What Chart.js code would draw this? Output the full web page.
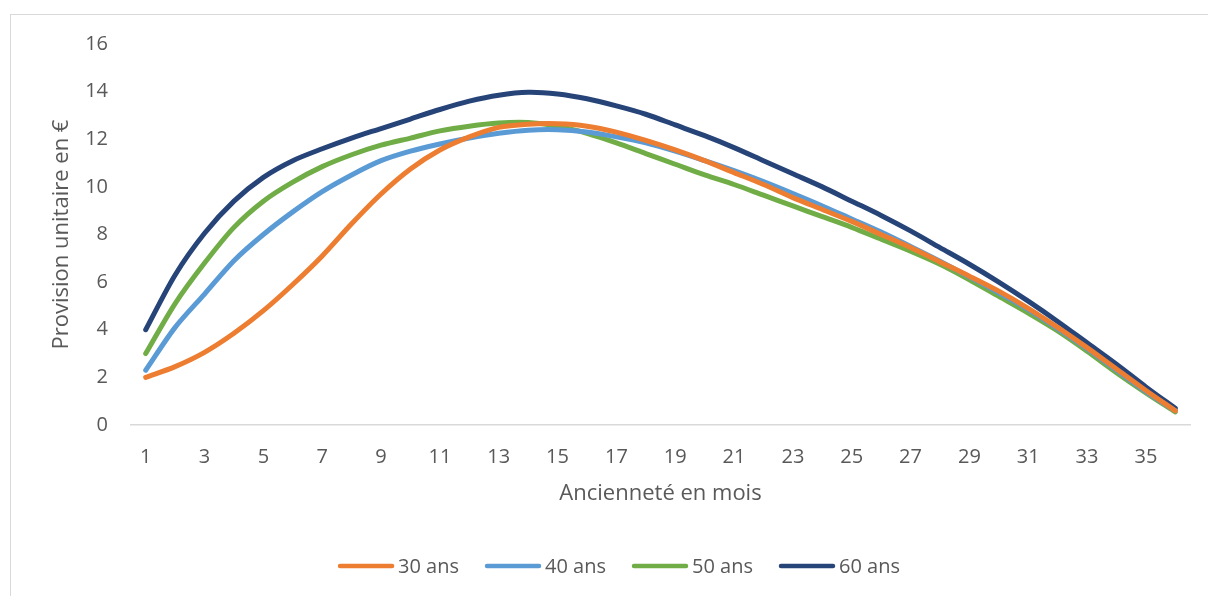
<!DOCTYPE html>
<html>
<head>
<meta charset="utf-8">
<script src="https://cdn.jsdelivr.net/npm/chart.js@4.4.0/dist/chart.umd.min.js"></script>
<style>
  html, body { margin: 0; padding: 0; background: #ffffff; overflow: hidden; }
  #frame { position: absolute; left: 10px; top: 14px; width: 1400px; height: 800px;
           border-left: 1.5px solid #d9d9d9; border-top: 1.5px solid #d9d9d9; }
  #wrap { position: absolute; left: 0; top: 0; width: 1208px; height: 596px; }
</style>
</head>
<body>
<div id="frame"></div>
<div id="wrap"><canvas id="c" width="1208" height="596"></canvas></div>
<script>
// ---- data ----
const categories = Array.from({length: 36}, (_, i) => String(i + 1));
const seriesNames = ["30 ans", "40 ans", "50 ans", "60 ans"];
const ans30 = [2.0, 2.45, 3.05, 3.85, 4.8, 5.9, 7.1, 8.45, 9.7, 10.75, 11.55, 12.1, 12.5, 12.63, 12.65, 12.55,
               12.3, 11.95, 11.55, 11.1, 10.6, 10.1, 9.55, 9.05, 8.55, 8.0, 7.45, 6.85, 6.25, 5.62, 4.9, 4.1, 3.25, 2.35, 1.45, 0.6];
const ans40 = [2.3, 4.1, 5.5, 6.9, 8.0, 8.95, 9.8, 10.5, 11.1, 11.5, 11.8, 12.05, 12.25, 12.38, 12.4, 12.3,
               12.1, 11.85, 11.5, 11.1, 10.68, 10.22, 9.72, 9.2, 8.65, 8.1, 7.5, 6.88, 6.22, 5.55, 4.85, 4.05, 3.2, 2.3, 1.4, 0.6];
const ans50 = [3.0, 5.1, 6.8, 8.3, 9.4, 10.2, 10.85, 11.35, 11.75, 12.05, 12.35, 12.55, 12.68, 12.7, 12.55, 12.25,
               11.85, 11.4, 10.95, 10.5, 10.1, 9.65, 9.2, 8.75, 8.3, 7.8, 7.3, 6.75, 6.1, 5.4, 4.7, 3.95, 3.1, 2.2, 1.35, 0.55];
const ans60 = [4.0, 6.3, 8.05, 9.4, 10.4, 11.1, 11.6, 12.05, 12.45, 12.85, 13.25, 13.6, 13.85, 13.97, 13.9, 13.7,
               13.4, 13.05, 12.6, 12.15, 11.65, 11.1, 10.55, 10.0, 9.4, 8.8, 8.15, 7.45, 6.75, 6.0, 5.2, 4.35, 3.45, 2.55, 1.6, 0.7];
const yTicks = [0, 2, 4, 6, 8, 10, 12, 14, 16];
const yTitle = "Provision unitaire en €";
const xTitle = "Ancienneté en mois";

const colors = ["#ED7D31", "#5B9BD5", "#70AD47", "#264478"];
const textColor = "#595959";
const FONT = "'Open Sans', 'Noto Sans', sans-serif";

const seriesValues = [ans30, ans40, ans50, ans60];
const datasets = seriesNames.map((name, i) => ({
  label: name,
  data: seriesValues[i],
  borderColor: colors[i],
  backgroundColor: colors[i],
  borderWidth: 5,
  pointRadius: 0,
  pointHoverRadius: 0,
  tension: 0.3,
  fill: false,
  borderCapStyle: 'round',
  borderJoinStyle: 'round'
}));

// custom legend drawn centred at the bottom
const bottomLegend = {
  id: 'bottomLegend',
  afterDraw(chart) {
    const ctx = chart.ctx;
    ctx.save();
    ctx.font = "20px " + FONT;
    const lineLen = 56, gapText = 4, gapItem = 26;
    const widths = chart.data.datasets.map(d => lineLen + gapText + ctx.measureText(d.label).width);
    const total = widths.reduce((a, b) => a + b, 0) + gapItem * (widths.length - 1);
    let x = 619 - total / 2;
    const y = 566;
    chart.data.datasets.forEach((d, i) => {
      ctx.beginPath();
      ctx.lineCap = 'round';
      ctx.lineWidth = 4.5;
      ctx.strokeStyle = d.borderColor;
      ctx.moveTo(x + 2, y);
      ctx.lineTo(x + lineLen - 2, y);
      ctx.stroke();
      ctx.fillStyle = textColor;
      ctx.textBaseline = 'middle';
      ctx.textAlign = 'left';
      ctx.fillText(d.label, x + lineLen + gapText, y + 1);
      x += widths[i] + gapItem;
    });
    ctx.restore();
  }
};

new Chart(document.getElementById('c'), {
  type: 'line',
  data: { labels: categories, datasets: datasets },
  options: {
    responsive: false,
    animation: false,
    events: [],
    layout: { padding: { left: 49, top: 44, right: 18, bottom: 88.8 } },
    plugins: { legend: { display: false }, tooltip: { enabled: false } },
    scales: {
      x: {
        type: 'category',
        offset: true,
        grid: { display: false, drawTicks: false },
        border: { display: true, color: '#d9d9d9', width: 1.5 },
        ticks: {
          autoSkip: false, maxRotation: 0, padding: 20.5,
          color: textColor, font: { family: FONT, size: 20 },
          callback: function(v, i) { return i % 2 === 0 ? this.getLabelForValue(v) : ''; }
        },
        title: { display: true, text: xTitle, color: textColor, padding: 0,
                 font: { family: FONT, size: 22 } },
        afterFit: s => { s.height = 82.2; }
      },
      y: {
        min: yTicks[0], max: yTicks[yTicks.length - 1],
        afterBuildTicks: s => { s.ticks = yTicks.map(v => ({ value: v })); },
        grid: { display: false, drawTicks: false },
        border: { display: false },
        ticks: { padding: 23, color: textColor, font: { family: FONT, size: 20 } },
        title: { display: true, text: yTitle, color: textColor, padding: 0,
                 font: { family: FONT, size: 22 } },
        afterFit: s => { s.width = 82; }
      }
    }
  },
  plugins: [bottomLegend]
});
</script>
</body>
</html>
